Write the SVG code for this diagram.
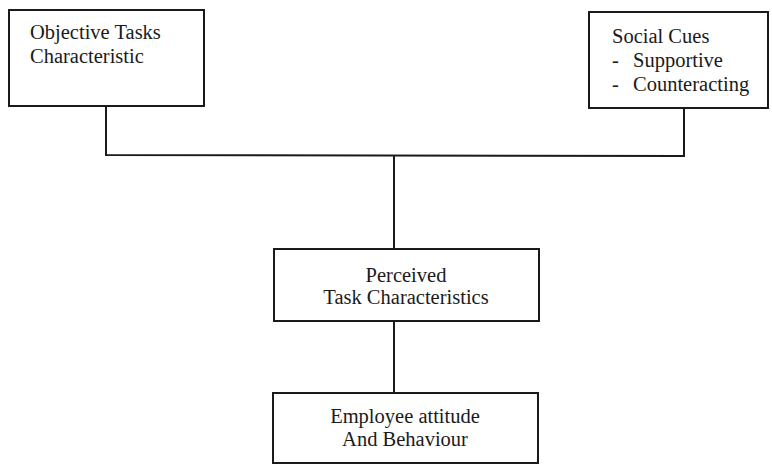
<svg xmlns="http://www.w3.org/2000/svg" width="772" height="464" viewBox="0 0 772 464">
<style>
.box{fill:#fff;stroke:#1a1a1a;stroke-width:2}
.ln{fill:none;stroke:#1a1a1a;stroke-width:2}
text{font-family:"Liberation Serif","Times New Roman",serif;font-size:20.5px;fill:#1a1a1a}
.c{text-anchor:middle}
</style>
<rect width="772" height="464" fill="#fff"/>
<g id="connectors">
<polyline class="ln" points="106,106 106,155 684,156 684,108"/>
<line class="ln" x1="394" y1="155" x2="394" y2="249"/>
<line class="ln" x1="394" y1="321" x2="394" y2="393"/>
</g>
<g id="objective">
<rect class="box" x="9" y="10" width="195" height="96"/>
<text x="30" y="39">Objective Tasks</text>
<text x="30" y="63">Characteristic</text>
</g>
<g id="social">
<rect class="box" x="589" y="12" width="179" height="96"/>
<text x="612" y="43">Social Cues</text>
<text x="612" y="67">-</text>
<text x="633" y="67">Supportive</text>
<text x="612" y="91">-</text>
<text x="633" y="91">Counteracting</text>
</g>
<g id="perceived">
<rect class="box" x="274" y="249" width="265" height="72"/>
<text class="c" x="406" y="282">Perceived</text>
<text class="c" x="406" y="304">Task Characteristics</text>
</g>
<g id="employee">
<rect class="box" x="273" y="393" width="265" height="70"/>
<text class="c" x="405" y="423">Employee attitude</text>
<text class="c" x="405" y="446">And Behaviour</text>
</g>
</svg>
